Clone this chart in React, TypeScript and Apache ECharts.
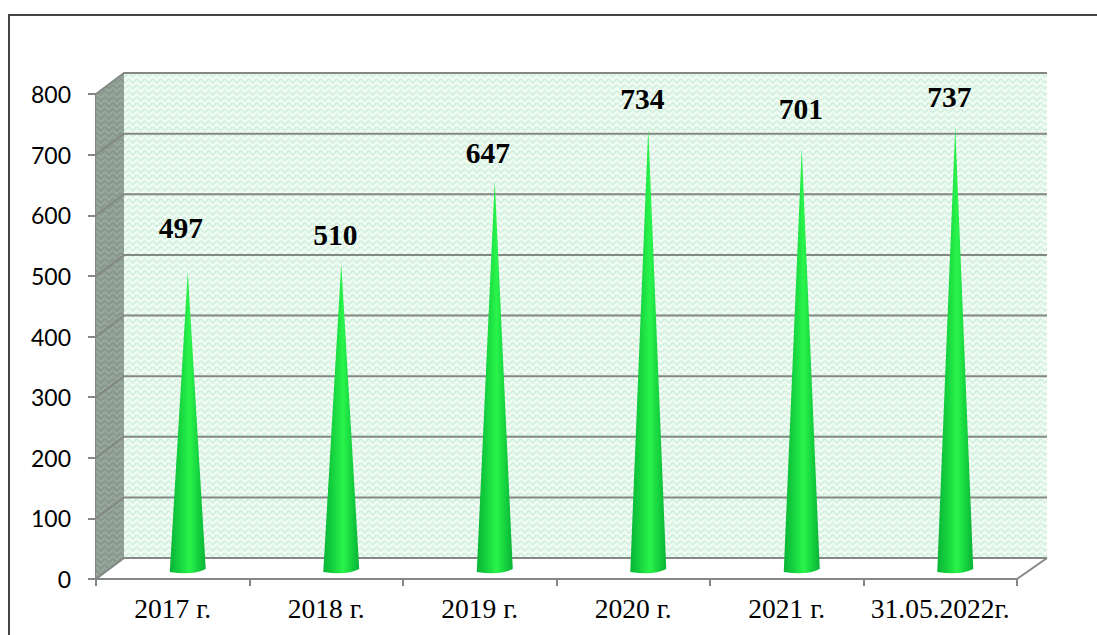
import React, { useEffect, useRef } from "react";
import * as echarts from "echarts";

const categories = ["2017 г.", "2018 г.", "2019 г.", "2020 г.", "2021 г.", "31.05.2022г."];
const values = [497, 510, 647, 734, 701, 737];
const valueTicks = [0, 100, 200, 300, 400, 500, 600, 700, 800];
const labelDx = [8, 9, 8, 9, 14, 9];
const labelDy = [-50, -35, -34, -35, -45, -35];

const DEPTH_X = 28;
const DEPTH_Y = -21;
const GRID_COLOR = "#848884";

function makePattern(base: string, dark: string, light: string) {
  const c = document.createElement("canvas");
  c.width = 16;
  c.height = 12;
  const g = c.getContext("2d")!;
  g.fillStyle = base;
  g.fillRect(0, 0, 16, 12);
  for (let row = 0; row < 2; row++) {
    const y0 = row * 6;
    for (let x = 0; x < 16; x++) {
      const k = x % 8;
      const off = k < 4 ? k : 8 - k;
      g.fillStyle = x % 2 ? dark : base;
      g.fillRect(x, (y0 + off) % 12, 1, 1);
      g.fillStyle = dark;
      g.fillRect(x, (y0 + off + 1) % 12, 1, 1);
      g.fillStyle = light;
      g.fillRect(x, (y0 + off + 3) % 12, 2, 1);
    }
  }
  return c;
}

export default function App() {
  const ref = useRef<HTMLDivElement>(null);
  useEffect(() => {
    const chart = echarts.init(ref.current!, undefined, { renderer: "svg" });
    const wallPattern = { image: makePattern("#e6f8eb", "#cdeeda", "#f6fdf7"), repeat: "repeat" };
    const sidePattern = { image: makePattern("#8f9f94", "#859689", "#9aa99e"), repeat: "repeat" };
    chart.setOption({
      animation: false,
      backgroundColor: "#ffffff",
      graphic: [
        {
          type: "polyline",
          shape: { points: [[9, 635], [9, 15], [1097, 15]] },
          style: { stroke: "#444444", lineWidth: 2, fill: "none" },
          silent: true,
        },
      ],
      grid: { left: 96, right: 80, top: 94, bottom: 56 },
      xAxis: {
        type: "category",
        data: categories,
        boundaryGap: true,
        axisLine: { show: true, lineStyle: { color: GRID_COLOR, width: 2 } },
        axisTick: { show: true, alignWithLabel: false, length: 7, lineStyle: { color: GRID_COLOR, width: 2 } },
        axisLabel: {
          interval: 0,
          margin: 15,
          color: "#000000",
          fontFamily: "Liberation Serif",
          fontSize: 27.5,
        },
      },
      yAxis: {
        type: "value",
        min: 0,
        max: 800,
        interval: 100,
        splitLine: { show: false },
        axisLine: { show: true, lineStyle: { color: GRID_COLOR, width: 2 } },
        axisTick: { show: true, length: 8, lineStyle: { color: GRID_COLOR, width: 2 } },
        axisLabel: {
          margin: 25,
          color: "#000000",
          fontFamily: "Lato",
          fontSize: 23,
          padding: [4, 0, 0, 0],
        },
      },
      series: [
        {
          type: "custom",
          silent: true,
          z: 1,
          data: [0],
          renderItem: (params: any) => {
            const r = params.coordSys;
            const l = r.x, t = r.y, w = r.width, h = r.height;
            return {
              type: "group",
              children: [
                {
                  type: "rect",
                  shape: { x: l + DEPTH_X, y: t + DEPTH_Y, width: w + 2, height: h },
                  style: { fill: wallPattern },
                },
                {
                  type: "polygon",
                  shape: {
                    points: [
                      [l, t],
                      [l + DEPTH_X, t + DEPTH_Y],
                      [l + DEPTH_X, t + h + DEPTH_Y],
                      [l, t + h],
                    ],
                  },
                  style: { fill: sidePattern },
                },
                {
                  type: "line",
                  shape: { x1: l + w, y1: t + h, x2: l + w + DEPTH_X + 2, y2: t + h + DEPTH_Y },
                  style: { stroke: GRID_COLOR, lineWidth: 2 },
                },
              ],
            };
          },
        },
        {
          type: "custom",
          silent: true,
          z: 2,
          data: valueTicks.map((t) => [0, t]),
          renderItem: (params: any, api: any) => {
            const r = params.coordSys;
            const y = api.coord([0, api.value(1)])[1];
            return {
              type: "polyline",
              shape: {
                points: [
                  [r.x, y],
                  [r.x + DEPTH_X, y + DEPTH_Y],
                  [r.x + r.width + DEPTH_X + 2, y + DEPTH_Y],
                ],
              },
              style: { stroke: GRID_COLOR, lineWidth: 2, fill: "none" },
            };
          },
        },
        {
          type: "custom",
          silent: true,
          z: 3,
          data: values.map((v, i) => [i, v]),
          renderItem: (params: any, api: any) => {
            const i = api.value(0);
            const v = api.value(1);
            const front0 = api.coord([i, 0]);
            const frontV = api.coord([i, v]);
            const cx = front0[0] + DEPTH_X / 2 + 1;
            const baseY = front0[1] - 10;
            const tipY = frontV[1] - 6;
            const halfW = 18;
            const pathData =
              `M${cx} ${tipY}` +
              `L${cx + halfW} ${baseY}` +
              `Q${cx + 6} ${baseY + 6.5} ${cx - halfW} ${baseY + 3}` +
              `Z`;
            return {
              type: "group",
              children: [
                {
                  type: "path",
                  shape: { pathData },
                  style: {
                    fill: new echarts.graphic.LinearGradient(0, 0, 1, 0, [
                      { offset: 0, color: "#0ab437" },
                      { offset: 0.25, color: "#14d03e" },
                      { offset: 0.55, color: "#2af44b" },
                      { offset: 0.8, color: "#14d03e" },
                      { offset: 1, color: "#0ab237" },
                    ]),
                  },
                },
                {
                  type: "text",
                  x: frontV[0] + labelDx[i],
                  y: frontV[1] + labelDy[i],
                  style: {
                    text: String(v),
                    fill: "#000000",
                    font: 'bold 29.5px "Liberation Serif"',
                    align: "center",
                    verticalAlign: "middle",
                  },
                },
              ],
            };
          },
        },
      ],
    });
    return () => chart.dispose();
  }, []);
  return <div ref={ref} style={{ position: "absolute", left: 0, top: 0, width: 1097, height: 635 }} />;
}
